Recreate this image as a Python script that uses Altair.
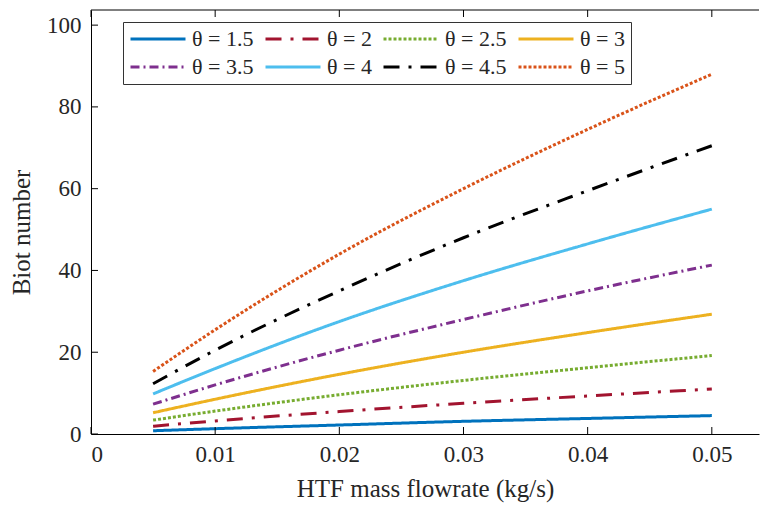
import altair as alt
import pandas as pd

# Data
flowrate = [0.005, 0.01, 0.02, 0.03, 0.04, 0.05]
theta_labels = ["θ = 1.5", "θ = 2", "θ = 2.5", "θ = 3",
                "θ = 3.5", "θ = 4", "θ = 4.5", "θ = 5"]
biot_15 = [0.8, 1.3, 2.2, 3.1, 3.8, 4.5]
biot_20 = [1.9, 3.2, 5.5, 7.5, 9.3, 11.0]
biot_25 = [3.4, 5.6, 9.6, 13.1, 16.2, 19.2]
biot_30 = [5.2, 8.5, 14.6, 20.0, 24.8, 29.3]
biot_35 = [7.3, 12.0, 20.5, 28.0, 35.0, 41.3]
biot_40 = [9.8, 16.0, 27.5, 37.5, 46.5, 55.0]
biot_45 = [12.3, 20.5, 35.0, 48.0, 59.5, 70.5]
biot_50 = [15.3, 25.5, 44.0, 60.0, 74.5, 88.0]
x_ticks = [0, 0.01, 0.02, 0.03, 0.04, 0.05]
y_ticks = [0, 20, 40, 60, 80, 100]

series = [biot_15, biot_20, biot_25, biot_30, biot_35, biot_40, biot_45, biot_50]
colors = ["#0072BD", "#A2142F", "#77AC30", "#EDB120",
          "#7E2F8E", "#4DBEEE", "#000000", "#D95319"]
dashes = [[1, 0], [16, 9, 3, 9], [3, 2], [1, 0],
          [9, 4, 2, 4], [1, 0], [16, 9, 3, 9], [3, 2]]

rows = []
for lab, vals in zip(theta_labels, series):
    for xv, yv in zip(flowrate, vals):
        rows.append({"x": xv, "y": yv, "theta": lab})
df = pd.DataFrame(rows)

W, H = 668, 424
FONT = "Liberation Serif"
TXT = "#262626"

xscale = alt.Scale(domain=[0, 0.0538], nice=False)
yscale = alt.Scale(domain=[0, 103.7], nice=False)

legend = alt.Legend(
    title=None, orient="none", legendX=32, legendY=12, columns=4,
    direction="horizontal",
    symbolType="stroke", symbolSize=3025, symbolStrokeWidth=3,
    labelFont=FONT, labelFontSize=22, labelColor=TXT, labelLimit=200,
    fillColor="white", strokeColor="#333333", padding=6,
    columnPadding=10, rowPadding=6, labelOffset=5, symbolOffset=0,
    clipHeight=22,
)

lines = alt.Chart(df).mark_line(strokeWidth=3, interpolate="monotone").encode(
    x=alt.X("x:Q", scale=xscale,
            axis=alt.Axis(values=x_ticks, format="~g", title="HTF mass flowrate (kg/s)",
                          ticks=False, labelPadding=9, titlePadding=10, grid=False,
                          labelFont=FONT, titleFont=FONT)),
    y=alt.Y("y:Q", scale=yscale,
            axis=alt.Axis(values=y_ticks, title="Biot number", ticks=False,
                          labelPadding=10, titlePadding=12, grid=False,
                          titleY=222, labelFont=FONT, titleFont=FONT)),
    color=alt.Color("theta:N", sort=theta_labels,
                    scale=alt.Scale(domain=theta_labels, range=colors), legend=legend),
    strokeDash=alt.StrokeDash("theta:N", sort=theta_labels,
                              scale=alt.Scale(domain=theta_labels, range=dashes), legend=legend),
)

tick_df = pd.DataFrame({"t": x_ticks})
xt_bottom = alt.Chart(tick_df).mark_rule(color="black", strokeWidth=1).encode(
    x=alt.X("t:Q", scale=xscale), y=alt.value(H), y2=alt.value(H - 7))
xt_top = alt.Chart(tick_df).mark_rule(color="black", strokeWidth=1).encode(
    x=alt.X("t:Q", scale=xscale), y=alt.value(0), y2=alt.value(7))
yt = alt.Chart(pd.DataFrame({"t": y_ticks})).mark_rule(color="black", strokeWidth=1).encode(
    y=alt.Y("t:Q", scale=yscale), x=alt.value(0), x2=alt.value(7))
top = alt.Chart(pd.DataFrame({"a": [0]})).mark_rule(color="black", strokeWidth=1).encode(
    x=alt.value(0), x2=alt.value(W), y=alt.value(0))

chart = alt.layer(lines, xt_bottom, xt_top, yt, top).properties(
    width=W, height=H,
    autosize=alt.AutoSizeParams(type="none"),
    padding={"left": 91, "top": 10, "right": 2, "bottom": 74},
).configure_view(stroke=None).configure_axis(
    labelFont=FONT, labelFontSize=23, labelColor=TXT,
    titleFont=FONT, titleFontSize=25, titleFontWeight="normal", titleColor=TXT,
    domainColor="black", domainWidth=1,
).configure_legend(labelFont=FONT)

chart.save("out.html", embed_options={"renderer": "svg", "actions": False})
